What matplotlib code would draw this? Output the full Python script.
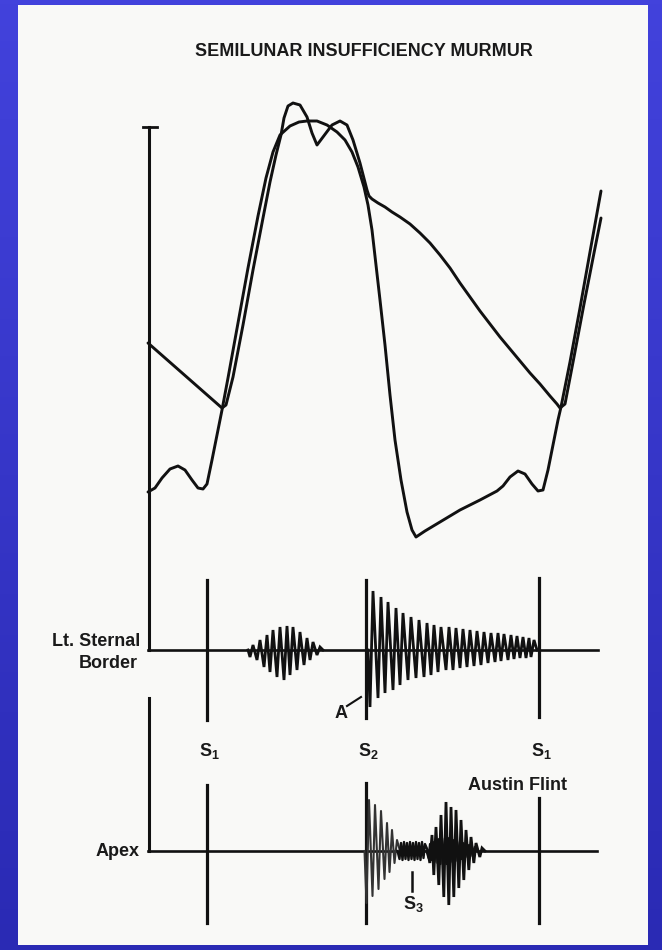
import numpy as np
import matplotlib
matplotlib.use("Agg")
import matplotlib.pyplot as plt
from matplotlib.patches import Rectangle

plt.rcParams['font.family'] = ['Liberation Sans', 'DejaVu Sans']
plt.rcParams['mathtext.fontset'] = 'custom'
plt.rcParams['mathtext.bf'] = 'Liberation Sans:bold'
plt.rcParams['mathtext.rm'] = 'Liberation Sans:bold'

# --- pressure tracings (x = time position, y = drawing height, y grows downward) ---
# left ventricle: atrial kick, upstroke, rounded dome, fall, diastolic fill
lv_x = [148, 155, 162, 170, 178, 185, 192, 198, 203, 207, 212, 217, 222, 228, 238, 248, 258,
        266, 273, 280, 290, 299, 307, 317, 327, 337, 345, 352, 358, 364, 368, 372, 376, 380,
        385, 390, 395, 401, 407, 412, 416, 425, 440, 460, 480, 497, 503, 510, 518, 525, 532,
        538, 543, 548, 553, 558, 561, 570, 580, 590, 601]
lv_y = [492, 488, 478, 469, 466, 470, 480, 488, 489, 484, 460, 435, 410, 378, 323, 268, 216,
        178, 152, 135, 126, 122, 121, 121, 125, 132, 140, 152, 167, 187, 205, 230, 265, 300,
        345, 395, 440, 480, 512, 530, 537, 531, 522, 510, 500, 491, 486, 477, 471, 474, 484,
        491, 490, 470, 445, 420, 407, 362, 308, 252, 191]

# aorta: diastolic run-off, upstroke, bisferiens peaks, incisura, run-off, next upstroke
ao_x = [148, 222, 226, 233, 243, 253, 263, 270, 276, 281, 284, 288, 293, 300, 307, 312, 317,
        323, 332, 340, 347, 353, 360, 367, 369, 372, 378, 385, 392, 400, 410, 420, 430, 440,
        450, 460, 470, 480, 490, 500, 510, 520, 530, 540, 550, 557, 560, 565, 574, 584, 594, 601]
ao_y = [343, 408, 405, 377, 325, 270, 218, 182, 155, 135, 118, 106, 103, 105, 117, 133, 145,
        137, 125, 121, 125, 140, 163, 190, 196, 199, 203, 207, 212, 217, 224, 233, 243, 255,
        268, 283, 297, 311, 324, 337, 349, 361, 373, 384, 396, 404, 408, 404, 357, 304, 253, 218]

# --- phonocardiogram baselines ---
lsb_base = 650
apex_base = 851
trace_x0, trace_x1 = 148, 598

# heart sound markers (x position, top, bottom)
lsb_marks_x = [207, 366, 539]
lsb_marks_top = [580, 580, 578]
lsb_marks_bot = [720, 718, 717]
apex_marks_x = [207, 366, 539]
apex_marks_top = [785, 783, 798]
apex_marks_bot = [923, 923, 923]

# systolic ejection murmur, Lt. sternal border
sem_x = [253, 260, 267, 273, 280, 287, 293, 300, 307, 313, 320]
sem_top = [645, 640, 635, 630, 627, 626, 627, 632, 638, 642, 647]
sem_bot = [657, 660, 667, 672, 677, 680, 675, 670, 665, 660, 655]

# diastolic decrescendo (aortic regurgitation), Lt. sternal border
ar_x = [373, 381, 388, 396, 403, 411, 419, 427, 434, 441, 449, 456, 463, 470, 477, 484, 491,
        498, 504, 511, 517, 523, 529, 534]
ar_top = [591, 597, 602, 608, 613, 617, 620, 623, 625, 627, 627, 628, 629, 630, 631, 632, 633,
          633, 634, 635, 636, 637, 638, 640]
ar_bot = [707, 698, 693, 690, 685, 680, 678, 677, 675, 672, 670, 670, 668, 667, 666, 665, 663,
          662, 661, 660, 659, 658, 658, 657]

# apex: regurgitant flow after S2, S3, Austin Flint rumble
ap_x = [369, 375, 381, 387, 392, 397]
ap_top = [800, 805, 811, 823, 830, 840]
ap_bot = [903, 896, 889, 879, 872, 863]

s3_x = [401, 404, 407, 410, 413, 416, 419, 422, 425]
s3_top = [843, 842, 843, 842, 843, 842, 843, 842, 844]
s3_bot = [859, 860, 859, 860, 859, 860, 859, 860, 858]

af_x = [432, 436, 441, 446, 451, 456, 461, 466, 471, 476, 482]
af_top = [835, 827, 815, 802, 807, 810, 820, 830, 837, 843, 848]
af_bot = [863, 875, 885, 897, 905, 897, 888, 880, 870, 863, 857]

af_core_x = [430, 433, 436, 439, 442, 445, 448, 451, 454, 457, 460, 463, 466, 469, 472, 475]
af_core_top = [844, 842, 840, 839, 838, 838, 838, 839, 840, 841, 842, 843, 844, 845, 846, 847]
af_core_bot = [858, 860, 862, 863, 864, 864, 864, 863, 862, 861, 860, 859, 858, 857, 856, 855]


def zigzag(xs, tops, bots, base, half=3.0):
    # each oscillation: down stroke just before x, up stroke to the peak at x
    px, py = [xs[0] - half - 2], [base]
    for x, t, b in zip(xs, tops, bots):
        px += [x - half, x]
        py += [b, t]
    px.append(xs[-1] + 3)
    py.append(base)
    return px, py


def main():
    fig = plt.figure(figsize=(6.62, 9.5), dpi=100)
    ax = fig.add_axes([0, 0, 1, 1])
    ax.set_xlim(0, 662)
    ax.set_ylim(950, 0)
    ax.axis('off')

    # blue slide background + white figure panel
    grad = np.linspace(0, 1, 256).reshape(-1, 1)
    cmap = matplotlib.colors.LinearSegmentedColormap.from_list('bg', ['#4242dc', '#2a2ab4'])
    ax.imshow(grad, extent=[0, 662, 950, 0], aspect='auto', cmap=cmap, zorder=0)
    ax.add_patch(Rectangle((18, 5), 630, 940, facecolor='#f9f9f7', edgecolor='none', zorder=1))

    k = dict(color='#111111', lw=2.1, solid_joinstyle='round', solid_capstyle='round', zorder=3)

    ax.text(364, 51, 'SEMILUNAR INSUFFICIENCY MURMUR', ha='center', va='center',
            fontsize=13, fontweight='bold', color='#1a1a1a', zorder=4)

    # pressure scale bar
    ax.plot([149, 149], [127, lsb_base], color='#111111', lw=2.2, zorder=3)
    ax.plot([143, 157], [127, 127], color='#111111', lw=2.0, zorder=3)
    ax.plot([149, 149], [698, apex_base], color='#111111', lw=2.2, zorder=3)

    ax.plot(lv_x, lv_y, **k)
    ax.plot(ao_x, ao_y, **k)

    # baselines
    ax.plot([trace_x0, trace_x1], [lsb_base, lsb_base], color='#111111', lw=1.9, zorder=3)
    ax.plot([trace_x0, trace_x1 - 1], [apex_base, apex_base], color='#111111', lw=1.9, zorder=3)

    for x, t, b in zip(lsb_marks_x, lsb_marks_top, lsb_marks_bot):
        ax.plot([x, x], [t, b], color='#111111', lw=2.3, zorder=3)
    for x, t, b in zip(apex_marks_x, apex_marks_top, apex_marks_bot):
        ax.plot([x, x], [t, b], color='#111111', lw=2.3, zorder=3)

    z = dict(color='#111111', lw=2.0, solid_joinstyle='miter', zorder=3)
    ax.plot(*zigzag(sem_x, sem_top, sem_bot, lsb_base), **z)
    ax.plot(*zigzag(ar_x, ar_top, ar_bot, lsb_base), **z)
    ax.plot(*zigzag(ap_x, ap_top, ap_bot, apex_base, half=2.5), color='#333333', lw=1.5, zorder=3)
    ax.plot(*zigzag(s3_x, s3_top, s3_bot, apex_base, half=1.5), color='#111111', lw=1.7, zorder=3)
    ax.plot(*zigzag(af_x, af_top, af_bot, apex_base, half=2.2), **z)
    ax.plot(*zigzag(af_core_x, af_core_top, af_core_bot, apex_base, half=1.5),
            color='#111111', lw=1.6, zorder=3)

    # labels
    lab = dict(fontsize=13, fontweight='bold', color='#1a1a1a', zorder=4)
    ax.text(140, 641, 'Lt. Sternal', ha='right', va='center', **lab)
    ax.text(138, 663, 'Border', ha='right', va='center', **lab)
    ax.text(140, 852, 'Apex', ha='right', va='center', **lab)
    ax.text(517, 786, 'Austin Flint', ha='center', va='center', **lab)

    for x, s in zip(lsb_marks_x, ['1', '2', '1']):
        ax.text(x + 2, 751, r'$\mathbf{S}_{\mathbf{%s}}$' % s, ha='center', va='center',
                fontsize=13, color='#1a1a1a', zorder=4)
    ax.text(413, 904, r'$\mathbf{S}_{\mathbf{3}}$', ha='center', va='center',
            fontsize=13, color='#1a1a1a', zorder=4)
    ax.plot([412, 412], [872, 891], color='#111111', lw=1.8, zorder=3)

    ax.text(341, 713, 'A', ha='center', va='center', **lab)
    ax.plot([347, 361], [706, 697], color='#111111', lw=1.5, zorder=3)

    fig.savefig('out.png', dpi=100)


if __name__ == "__main__":
    main()
